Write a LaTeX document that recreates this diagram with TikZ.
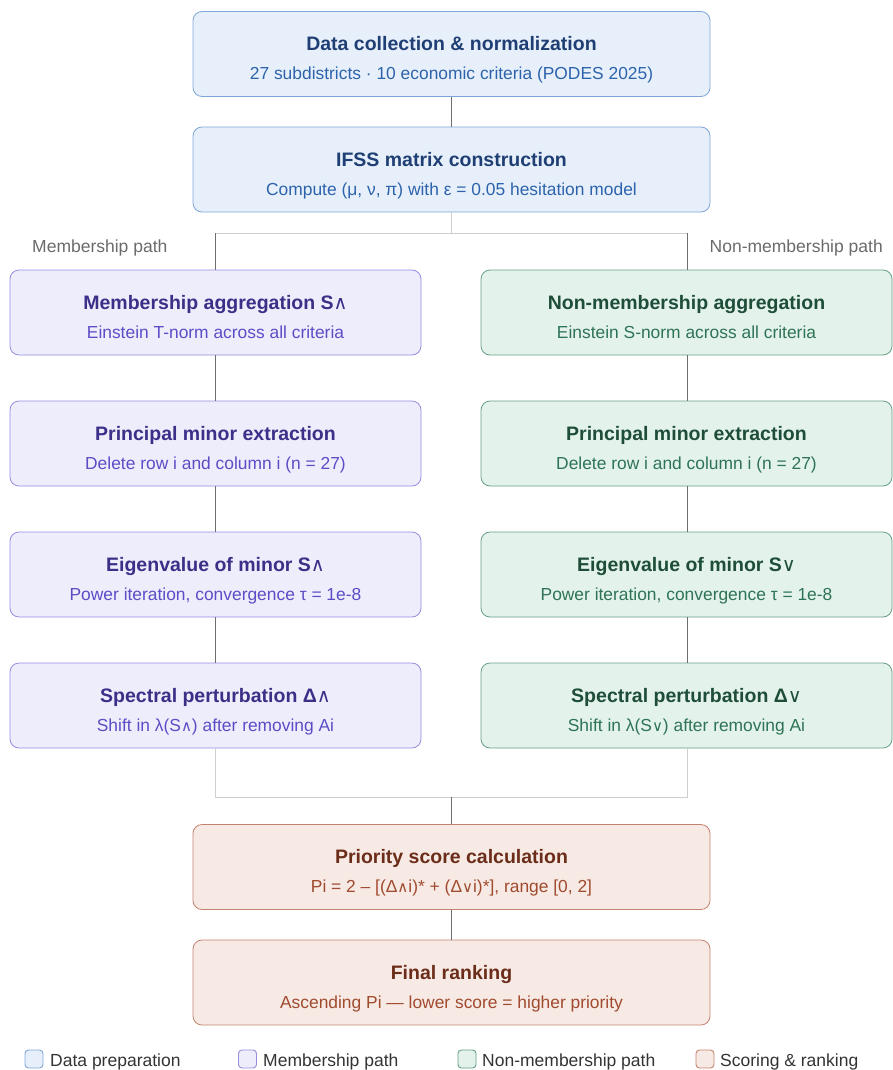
\documentclass[tikz,border=0pt]{standalone}
\usepackage{fontspec}
\setmainfont{Liberation Sans}
\newfontfamily\symfont{DejaVu Sans}
\newcommand{\twedge}{{\symfont\mdseries\fontsize{19}{19}\selectfont ∧}}
\newcommand{\tvee}{{\symfont\mdseries\fontsize{19}{19}\selectfont ∨}}
\newcommand{\swedge}{{\symfont\mdseries\fontsize{15}{15}\selectfont ∧}}
\newcommand{\svee}{{\symfont\mdseries\fontsize{15}{15}\selectfont ∨}}
\definecolor{bfill}{HTML}{E7F0FA}
\definecolor{bdraw}{HTML}{7FA6D8}
\definecolor{btit}{HTML}{1F3F74}
\definecolor{bsub}{HTML}{2D63AC}
\definecolor{pfill}{HTML}{EEEDFC}
\definecolor{pdraw}{HTML}{958DE0}
\definecolor{ptit}{HTML}{3B2F88}
\definecolor{psub}{HTML}{5B4DC6}
\definecolor{gfill}{HTML}{E3F3EC}
\definecolor{gdraw}{HTML}{66A085}
\definecolor{gtit}{HTML}{1E4D38}
\definecolor{gsub}{HTML}{2E7356}
\definecolor{ofill}{HTML}{F7EAE5}
\definecolor{odraw}{HTML}{C4826E}
\definecolor{otit}{HTML}{6B2D19}
\definecolor{osub}{HTML}{A04A2E}
\definecolor{darkline}{HTML}{6E6E6E}
\definecolor{lightline}{HTML}{CFCFCF}
\definecolor{pathlbl}{HTML}{6A6A6A}
% #1 name, #2 style, #3 x, #4 y, #5 title colour, #6 title, #7 sub colour, #8 sub
\newcommand{\stage}[8]{%
  \node[#2] (#1) at (#3,#4) {};
  \node[ttl, text=#5] (#1t) at ([yshift=3.5pt]#1.center) {#6};
  \node[sbt, text=#7] (#1s) at ([yshift=-25.5pt]#1.center) {#8};
}
\begin{document}
\begin{tikzpicture}[x=1pt,y=-1pt,
  box/.style={rounded corners=9pt, line width=0.8pt, inner sep=0pt},
  wide/.style={box, minimum width=517pt, minimum height=85pt},
  half/.style={box, minimum width=411pt, minimum height=85pt},
  blue/.style={fill=bfill, draw=bdraw},
  purp/.style={fill=pfill, draw=pdraw},
  gren/.style={fill=gfill, draw=gdraw},
  oran/.style={fill=ofill, draw=odraw},
  ttl/.style={anchor=base, inner sep=0pt, font=\fontsize{19.5}{22}\selectfont\bfseries},
  sbt/.style={anchor=base, inner sep=0pt, font=\fontsize{17.4}{20}\selectfont},
  dline/.style={draw=darkline, line width=1.5pt},
  lline/.style={draw=lightline, line width=1pt},
  lbl/.style={font=\fontsize{17.5}{20}\selectfont, text=pathlbl, inner sep=0pt},
  leg/.style={rounded corners=3.5pt, line width=0.9pt, minimum width=18pt, minimum height=18pt, inner sep=0pt},
  legt/.style={font=\fontsize{17.5}{20}\selectfont, text=black!80, inner sep=0pt, anchor=base west}
]
\useasboundingbox (0,0) rectangle (892,1070);

\coordinate (split) at (451.5,233);
\coordinate (splitL) at (215.5,233);
\coordinate (splitR) at (687.5,233);
\coordinate (merge) at (451.5,797);
\coordinate (mergeL) at (215.5,797);
\coordinate (mergeR) at (687.5,797);

\stage{b1}{wide,blue}{451.5}{54}{btit}{Data collection \& normalization}{bsub}{27 subdistricts · 10 economic criteria (PODES 2025)}
\stage{b2}{wide,blue}{451.5}{169.5}{btit}{IFSS matrix construction}{bsub}{Compute (μ, ν, π) with ε = 0.05 hesitation model}

\stage{l1}{half,purp}{215.5}{312.5}{ptit}{Membership aggregation S\twedge}{psub}{Einstein T-norm across all criteria}
\stage{l2}{half,purp}{215.5}{443.5}{ptit}{Principal minor extraction}{psub}{Delete row i and column i (n = 27)}
\stage{l3}{half,purp}{215.5}{574.5}{ptit}{Eigenvalue of minor S\twedge}{psub}{Power iteration, convergence τ = 1e-8}
\stage{l4}{half,purp}{215.5}{705.5}{ptit}{Spectral perturbation Δ\twedge}{psub}{Shift in λ(S\swedge) after removing Ai}

\stage{r1}{half,gren}{686.5}{312.5}{gtit}{Non-membership aggregation}{gsub}{Einstein S-norm across all criteria}
\stage{r2}{half,gren}{686.5}{443.5}{gtit}{Principal minor extraction}{gsub}{Delete row i and column i (n = 27)}
\stage{r3}{half,gren}{686.5}{574.5}{gtit}{Eigenvalue of minor S\tvee}{gsub}{Power iteration, convergence τ = 1e-8}
\stage{r4}{half,gren}{686.5}{705.5}{gtit}{Spectral perturbation Δ\tvee}{gsub}{Shift in λ(S\svee) after removing Ai}

\stage{p1}{wide,oran}{451.5}{867}{otit}{Priority score calculation}{osub}{Pi = 2 – [(Δ\swedge i)* + (Δ\svee i)*], range [0, 2]}
\stage{p2}{wide,oran}{451.5}{982.5}{otit}{Final ranking}{osub}{Ascending Pi — lower score = higher priority}

\draw[dline] (b1) -- (b2);
\draw[lline] (b2.south) -- (split);
\draw[lline] (splitL) -- (splitR);
\draw[dline] (splitL) -- (l1.north);
\draw[dline] (splitR) -- (splitR |- r1.north);
\draw[dline] (l1) -- (l2);
\draw[dline] (l2) -- (l3);
\draw[dline] (l3) -- (l4);
\draw[dline] (splitR |- r1.south) -- (splitR |- r2.north);
\draw[dline] (splitR |- r2.south) -- (splitR |- r3.north);
\draw[dline] (splitR |- r3.south) -- (splitR |- r4.north);
\draw[lline] (l4.south) -- (mergeL) -- (mergeR) -- (mergeR |- r4.south);
\draw[dline] (merge) -- (p1.north);
\draw[dline] (p1) -- (p2);

\node[lbl, anchor=base west] (ml) at (32,252) {Membership path};
\node[lbl, anchor=base east] (nl) at (883,252) {Non-membership path};

% legend
\node[leg, fill=bfill, draw=bdraw] (k1) at (34,1059) {};
\node[legt] (k1t) at (50,1066) {Data preparation};
\node[leg, fill=pfill, draw=pdraw] (k2) at (247.5,1059) {};
\node[legt] (k2t) at (263,1066) {Membership path};
\node[leg, fill=gfill, draw=gdraw] (k3) at (467,1059) {};
\node[legt] (k3t) at (482,1066) {Non-membership path};
\node[leg, fill=ofill, draw=odraw] (k4) at (705,1059) {};
\node[legt] (k4t) at (720,1066) {Scoring \& ranking};
\end{tikzpicture}
\end{document}
